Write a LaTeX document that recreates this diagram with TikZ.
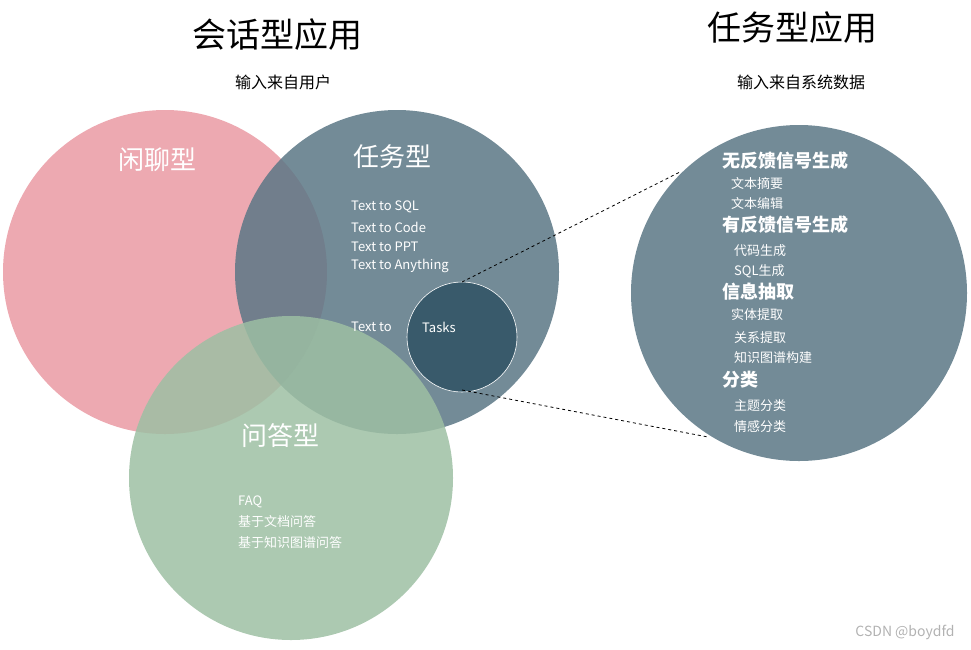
\documentclass[tikz,border=0pt]{standalone}
\usepackage{fontspec}
\setmainfont{Noto Sans CJK SC}
\begin{document}
\begin{tikzpicture}[x=1pt,y=-1pt,
  fs/.style={font=\fontsize{#1}{#1}\selectfont},
  item/.style={anchor=west,text=white,fs=13,inner sep=0pt},
  head/.style={anchor=west,text=white,fs=18,inner sep=0pt,font=\fontsize{18}{18}\selectfont\bfseries},
  big/.style={text=white,fs=26,inner sep=0pt},
  link/.style={dashed,thick,black}]
\useasboundingbox (0,0) rectangle (971,649);
\definecolor{pk}{HTML}{E8949E}
\definecolor{sl}{HTML}{5B7785}
\definecolor{gr}{HTML}{9DBFA3}
\definecolor{dk}{HTML}{2F5263}
\fill[pk,fill opacity=0.8] (165,272) circle (162);
\fill[sl,fill opacity=0.85] (397,272) circle (162);
\fill[gr,fill opacity=0.85] (291,478) circle (162);
\node[circle,minimum size=110,fill=dk,draw=white,line width=0.6pt,fill opacity=0.85,draw opacity=1] (sm) at (462,337) {};
\node[circle,minimum size=336,fill=sl,fill opacity=0.85,inner sep=0] (rc) at (799,293) {};
\coordinate (s1) at (462,282); \coordinate (s2) at (462,390);
\coordinate (r1) at (680,172); \coordinate (r2) at (708,437);
\draw[link] (s1) -- (r1);
\draw[link] (s2) -- (r2);
\node[fs=34] (t1) at (277,35) {会话型应用};
\node[fs=16] (t1s) at (283,82) {输入来自用户};
\node[fs=34] (t2) at (792,28) {任务型应用};
\node[fs=16] (t2s) at (801,82) {输入来自系统数据};
\node[big] (a) at (157,160) {闲聊型};
\node[big] (b) at (392,157) {任务型};
\node[big] (c) at (280,436) {问答型};
\node[item] at (351,207) {Text to SQL};
\node[item] at (351,227) {Text to Code};
\node[item] at (351,247) {Text to PPT};
\node[item] at (351,266) {Text to Anything};
\node[item] at (351,327) {Text to};
\node[item] at (422,327) {Tasks};
\node[item] at (238,502) {FAQ};
\node[item] at (238,522) {基于文档问答};
\node[item] at (238,543) {基于知识图谱问答};
\node[head] at (722,161) {无反馈信号生成};
\node[item] at (731,184) {文本摘要};
\node[item] at (731,204) {文本编辑};
\node[head] at (722,225) {有反馈信号生成};
\node[item] at (734,251) {代码生成};
\node[item] at (734,271) {SQL生成};
\node[head] at (722,292) {信息抽取};
\node[item] at (731,315) {实体提取};
\node[item] at (734,338) {关系提取};
\node[item] at (734,358) {知识图谱构建};
\node[head] at (722,380) {分类};
\node[item] at (734,406) {主题分类};
\node[item] at (734,427) {情感分类};
\node[fs=14,text=gray!60] at (905,632) {CSDN @boydfd};
\end{tikzpicture}
\end{document}
